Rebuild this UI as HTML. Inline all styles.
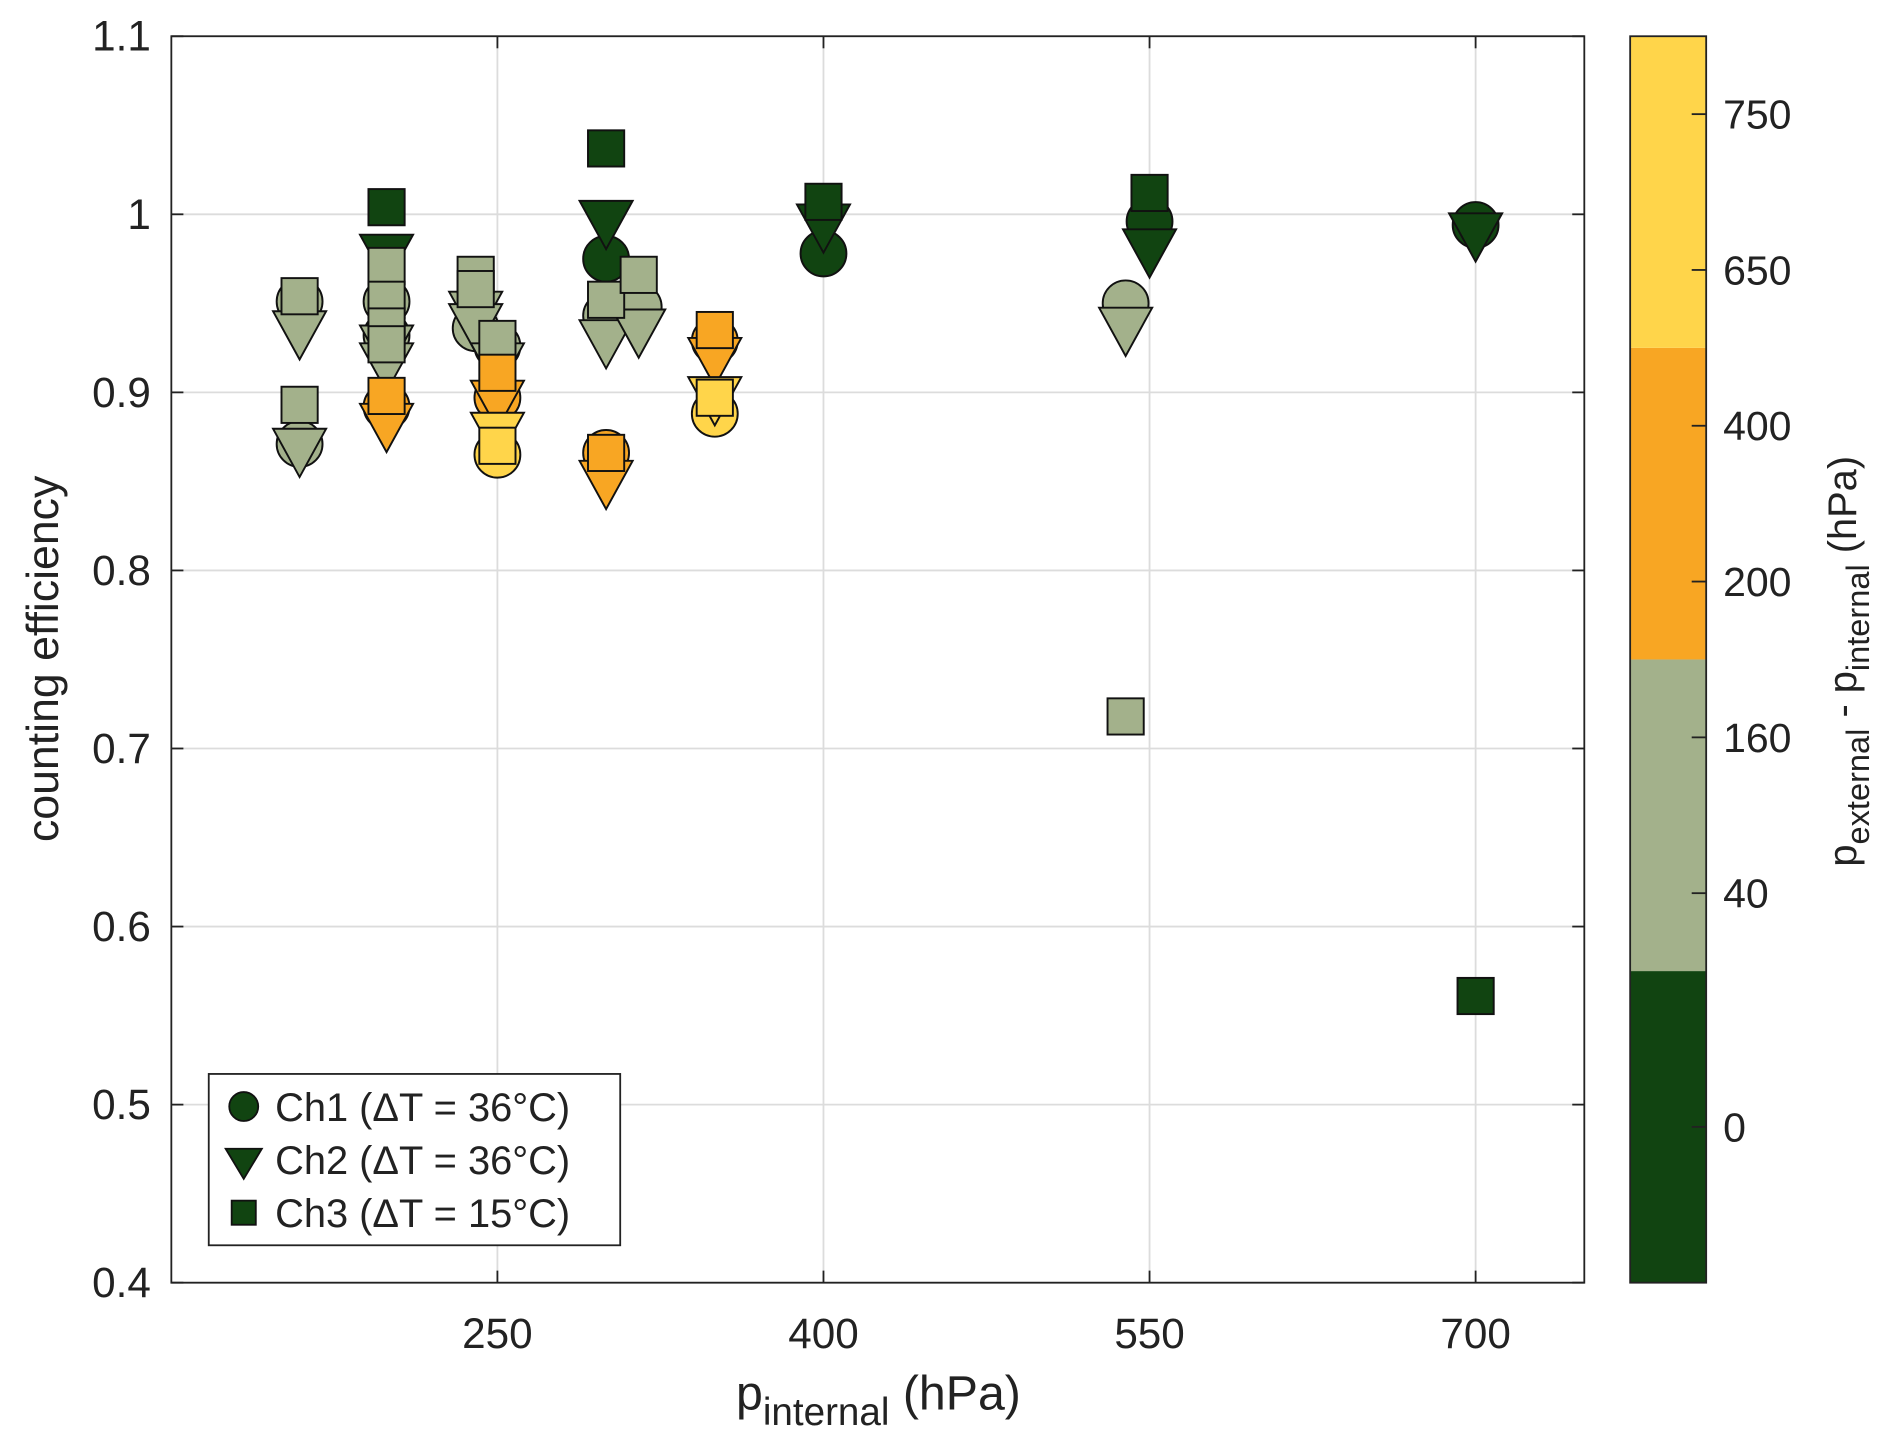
<!DOCTYPE html>
<html><head><meta charset="utf-8"><style>
html,body{margin:0;padding:0;background:#fff;}
svg{display:block;font-family:"Liberation Sans",Arial,sans-serif;}
</style></head><body>
<svg id="chart" width="1892" height="1456" viewBox="0 0 1568 1206.6" xmlns="http://www.w3.org/2000/svg">
<g id="grid"></g>
<g id="marks"></g>
<g id="axes"></g>
<text x="728" y="1168" font-size="40" text-anchor="middle" fill="#222">p<tspan font-size="32" dy="13">internal</tspan><tspan dy="-13"> (hPa)</tspan></text>
<text transform="translate(48,546) rotate(-90)" font-size="37" text-anchor="middle" fill="#222">counting efficiency</text>
<g>
<rect x="173" y="890" width="341" height="142" fill="#fff" stroke="#222" stroke-width="1.5"/>
<circle cx="202" cy="917" r="12" fill="#114411" stroke="#111" stroke-width="1.5"/>
<text x="228" y="929" font-size="33" fill="#222">Ch1 (ΔT = 36°C)</text>
<polygon points="187,952 217,952 202,977" fill="#114411" stroke="#111" stroke-width="1.5"/>
<text x="228" y="973" font-size="33" fill="#222">Ch2 (ΔT = 36°C)</text>
<rect x="192" y="995" width="20" height="20" fill="#114411" stroke="#111" stroke-width="1.5"/>
<text x="228" y="1017" font-size="33" fill="#222">Ch3 (ΔT = 15°C)</text>
</g>
<g id="cbar"></g>
<text transform="translate(1538,548) rotate(-90)" font-size="33" text-anchor="middle" fill="#222">p<tspan font-size="27" dy="11">external</tspan><tspan dy="-11"> - p</tspan><tspan font-size="27" dy="11">internal</tspan><tspan dy="-11"> (hPa)</tspan></text>
</svg>
<script>
const NS="http://www.w3.org/2000/svg";
const xTicks=[250,400,550,700];
const yTicks=[0.4,0.5,0.6,0.7,0.8,0.9,1.0,1.1];
const yTickLabels=["0.4","0.5","0.6","0.7","0.8","0.9","1","1.1"];
const bandColors=["#114411","#A3B18B","#F8A623","#FFD54A"];
const cbarTickLabels=["0","40","160","200","400","650","750"];
const cbarTickPos=[0.5,1.25,1.75,2.25,2.75,3.25,3.75];
// Ch1 circles
const ch1P=[159,159,199,199,199,240,250,250,250,300,300,300,315,350,350,400,539,550,700];
const ch1E=[0.951,0.871,0.951,0.932,0.892,0.936,0.926,0.897,0.865,0.975,0.943,0.866,0.948,0.929,0.888,0.978,0.950,0.996,0.994];
const ch1C=[1,1,1,1,2,1,1,2,3,0,1,2,1,2,3,0,1,0,0];
// Ch2 triangles
const ch2P=[159,159,199,199,199,199,240,240,250,250,250,300,300,300,315,350,350,400,539,550,700];
const ch2E=[0.932,0.866,0.975,0.924,0.914,0.880,0.943,0.936,0.914,0.893,0.875,0.994,0.927,0.848,0.933,0.917,0.895,0.992,0.934,0.978,0.987];
const ch2C=[1,1,0,1,1,2,1,1,1,2,3,0,1,2,1,2,3,0,1,0,0];
// Ch3 squares
const ch3P=[159,159,199,199,199,199,199,199,240,240,250,250,250,300,300,300,315,350,350,400,539,550,700];
const ch3E=[0.954,0.893,1.004,0.971,0.952,0.937,0.927,0.898,0.966,0.958,0.930,0.911,0.870,1.037,0.952,0.866,0.966,0.935,0.897,1.007,0.718,1.012,0.561];
const ch3C=[1,1,0,1,1,1,1,2,1,1,1,2,3,0,1,2,1,2,3,0,1,0,0];

const L=142,R=1313,T=30,B=1063;
const xS=p=>L+(p-100)/(750-100)*(R-L);
const yS=v=>B-(v-0.4)/(1.1-0.4)*(B-T);
function mk(tag,attrs,parent){const e=document.createElementNS(NS,tag);for(const k in attrs)e.setAttribute(k,attrs[k]);parent.appendChild(e);return e;}
const grid=document.getElementById('grid'),axes=document.getElementById('axes'),marks=document.getElementById('marks'),cbar=document.getElementById('cbar');
xTicks.forEach(t=>{const x=xS(t);
 const g=mk('line',{x1:x,x2:x,y1:T,y2:B,stroke:'#dcdcdc','stroke-width':1.5},grid);
 
 mk('line',{x1:x,x2:x,y1:B,y2:B-10,stroke:'#222','stroke-width':1.5},axes);
 mk('line',{x1:x,x2:x,y1:T,y2:T+10,stroke:'#222','stroke-width':1.5},axes);
 const tx=mk('text',{x:x,y:1117,'font-size':35,'text-anchor':'middle',fill:'#222'},axes);tx.textContent=t;
 
});
yTicks.forEach((t,i)=>{const y=yS(t);
 const g=mk('line',{x1:L,x2:R,y1:y,y2:y,stroke:'#dcdcdc','stroke-width':1.5},grid);
 
 mk('line',{x1:L,x2:L+10,y1:y,y2:y,stroke:'#222','stroke-width':1.5},axes);
 mk('line',{x1:R,x2:R-10,y1:y,y2:y,stroke:'#222','stroke-width':1.5},axes);
 const tx=mk('text',{x:125,y:y+12,'font-size':35,'text-anchor':'end',fill:'#222'},axes);tx.textContent=yTickLabels[i];
 
});
const frame=mk('rect',{x:L,y:T,width:R-L,height:B-T,fill:'none',stroke:'#222','stroke-width':1.5},axes);

const st={stroke:'#111','stroke-width':1.6};
ch1P.forEach((p,i)=>{const c=mk('circle',{cx:xS(p),cy:yS(ch1E[i]),r:19,fill:bandColors[ch1C[i]],...st},marks);
 });
ch2P.forEach((p,i)=>{const x=xS(p),y=yS(ch2E[i]);
 const c=mk('polygon',{points:`${x-22},${y-20} ${x+22},${y-20} ${x},${y+20}`,fill:bandColors[ch2C[i]],...st},marks);
 });
ch3P.forEach((p,i)=>{const x=xS(p),y=yS(ch3E[i]);
 const c=mk('rect',{x:x-15,y:y-15,width:30,height:30,fill:bandColors[ch3C[i]],...st},marks);
 });
const CL=1351,CR=1414,bandH=(B-T)/bandColors.length;
bandColors.forEach((c,i)=>{const r=mk('rect',{x:CL,y:B-(i+1)*bandH,width:CR-CL,height:bandH,fill:c},cbar);
 });
mk('rect',{x:CL,y:T,width:CR-CL,height:B-T,fill:'none',stroke:'#222','stroke-width':1.5},cbar);
cbarTickPos.forEach((p,i)=>{const y=B-p*bandH;
 mk('line',{x1:CR,x2:CR-12,y1:y,y2:y,stroke:'#222','stroke-width':1.5},cbar);
 const tx=mk('text',{x:1428,y:y+12,'font-size':34,fill:'#222'},cbar);tx.textContent=cbarTickLabels[i];
 });
</script>
</body></html>
